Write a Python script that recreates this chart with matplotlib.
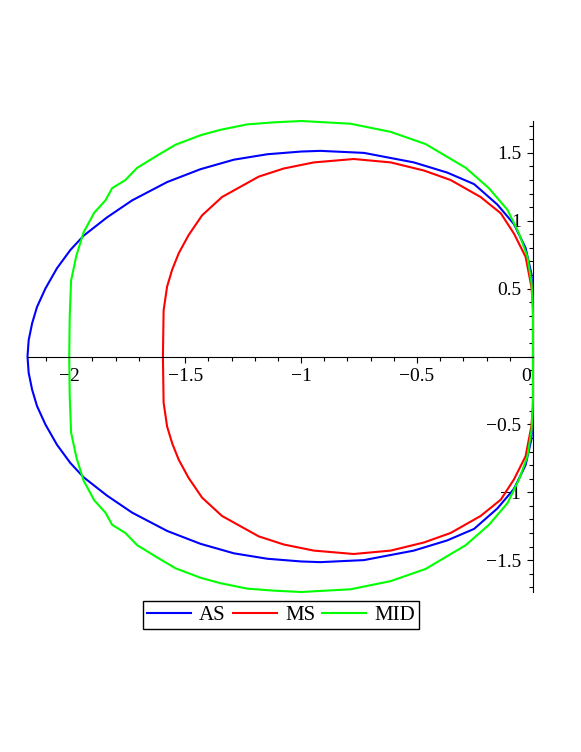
import matplotlib.pyplot as plt
import numpy as np
from matplotlib.ticker import MultipleLocator
from matplotlib.transforms import ScaledTranslation

plt.rcParams['font.family'] = ['Liberation Serif', 'DejaVu Serif']

# upper halves of the boundary curves (lower half mirrors)
as_x = [-2.18, -2.175, -2.16, -2.139, -2.103, -2.053, -1.995, -1.938, -1.837,
        -1.729, -1.578, -1.434, -1.29, -1.146, -1.0, -0.917, -0.729, -0.514,
        -0.37, -0.254, -0.154, -0.082, -0.032, -0.007, 0.0, 0.0]
as_y = [0.0, 0.12, 0.245, 0.365, 0.50, 0.65, 0.785, 0.89, 1.025,
        1.15, 1.285, 1.38, 1.45, 1.49, 1.51, 1.515, 1.50, 1.43,
        1.355, 1.27, 1.12, 0.975, 0.80, 0.61, 0.41, 0.0]

ms_x = [-1.596, -1.593, -1.578, -1.556, -1.528, -1.485, -1.427, -1.341, -1.262,
        -1.183, -1.075, -0.945, -0.773, -0.614, -0.47, -0.355, -0.226, -0.139,
        -0.082, -0.032, -0.007, 0.0, 0.0]
ms_y = [0.0, 0.34, 0.515, 0.64, 0.76, 0.895, 1.04, 1.175, 1.25,
        1.325, 1.385, 1.43, 1.455, 1.43, 1.37, 1.30, 1.175, 1.055,
        0.905, 0.735, 0.515, 0.37, 0.0]

mid_x = [-2.0, -1.998, -1.992, -1.969, -1.938, -1.892, -1.844, -1.815, -1.758,
         -1.707, -1.621, -1.542, -1.434, -1.348, -1.233, -1.118, -1.0, -0.787,
         -0.614, -0.463, -0.29, -0.19, -0.11, -0.06, -0.024, -0.006, 0.0, 0.0]
mid_y = [0.0, 0.29, 0.56, 0.745, 0.915, 1.06, 1.15, 1.24, 1.30,
         1.39, 1.48, 1.56, 1.63, 1.67, 1.71, 1.725, 1.735, 1.715,
         1.655, 1.565, 1.39, 1.24, 1.08, 0.905, 0.735, 0.54, 0.31, 0.0]

labels = ["AS", "MS", "MID"]
colors = ["#0000ff", "#ff0000", "#00ff00"]


def closed(xs, ys):
    xs = np.array(xs)
    ys = np.array(ys)
    return (np.concatenate([xs[::-1], xs[1:]]),
            np.concatenate([ys[::-1], -ys[1:]]))


fig = plt.figure(figsize=(5.81, 7.52), dpi=100)
ax = fig.add_axes([27.5 / 581, 1 - 592 / 752, (533 - 27.5) / 581, (592 - 121) / 752])

for (xs, ys), lab, c in zip([(as_x, as_y), (ms_x, ms_y), (mid_x, mid_y)], labels, colors):
    px, py = closed(xs, ys)
    ax.plot(px, py, color=c, lw=1.5, label=lab, clip_on=False)

ax.set_xlim(-2.18, 0.0)
ax.set_ylim(-1.735, 1.735)

ax.spines['top'].set_visible(False)
ax.spines['right'].set_visible(False)
ax.spines['left'].set_position(('data', 0))
ax.spines['bottom'].set_position(('data', 0))
ax.spines['left'].set_zorder(0)

ax.set_xticks([-2, -1.5, -1, -0.5, 0])
ax.set_xticklabels(["\u22122", "\u22121.5", "\u22121", "\u22120.5", "0"])
ax.set_yticks([-1.5, -1, -0.5, 0.5, 1, 1.5])
ax.set_yticklabels(["\u22121.5", "\u22121", "\u22120.5", "0.5", "1", "1.5"])
ax.xaxis.set_minor_locator(MultipleLocator(0.1))
ax.yaxis.set_minor_locator(MultipleLocator(0.1))
ax.tick_params(which='major', length=4.5, width=0.8, labelsize=14, pad=4)
ax.tick_params(which='minor', length=3, width=0.8)

# the "0" label sits just left of the vertical axis
zero = ax.get_xticklabels()[-1]
zero.set_transform(zero.get_transform() + ScaledTranslation(-0.07, 0, fig.dpi_scale_trans))

fig.legend(loc='center', bbox_to_anchor=(281 / 581, 1 - 615 / 752), ncol=3,
           fontsize=15, frameon=True, fancybox=False, edgecolor='black',
           framealpha=1, handlelength=2.1, handletextpad=0.4, columnspacing=0.35,
           borderpad=0.2, borderaxespad=0)

plt.savefig("out.png", dpi=100)
